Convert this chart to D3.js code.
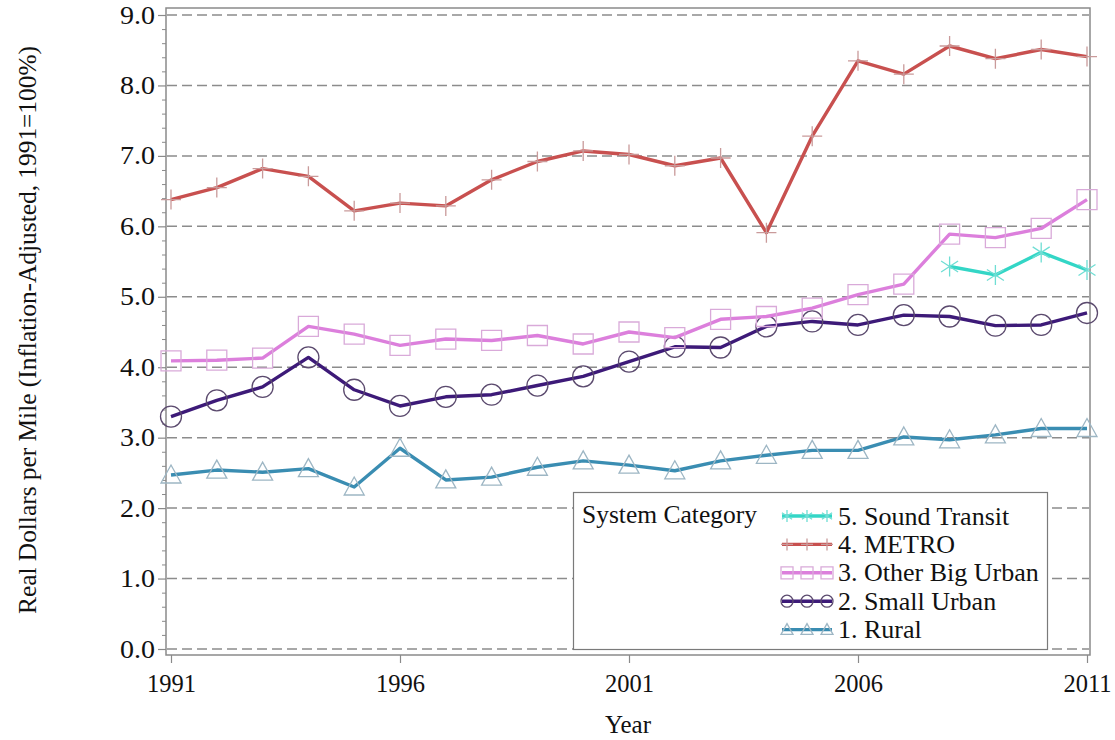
<!DOCTYPE html>
<html>
<head>
<meta charset="utf-8">
<script src="https://cdn.jsdelivr.net/npm/d3@7/dist/d3.min.js"></script>
</head>
<body style="margin:0;padding:0;background:#fff">
<svg id="chart" width="1115" height="740" style="display:block"></svg>
<script>
// ---------------- DATA ----------------
const years = [1991,1992,1993,1994,1995,1996,1997,1998,1999,2000,2001,2002,2003,2004,2005,2006,2007,2008,2009,2010,2011];
const xTickValues = [1991, 1996, 2001, 2006, 2011];
const yTickValues = [0,1,2,3,4,5,6,7,8,9];

const soundTransit = [null,null,null,null,null,null,null,null,null,null,null,null,null,null,null,null,null,5.43,5.31,5.63,5.38];
const metro        = [6.38,6.55,6.82,6.71,6.22,6.33,6.29,6.66,6.92,7.07,7.02,6.86,6.97,5.91,7.28,8.35,8.16,8.56,8.38,8.51,8.41];
const otherBigUrban= [4.09,4.10,4.13,4.58,4.47,4.31,4.40,4.38,4.45,4.33,4.50,4.42,4.68,4.72,4.84,5.03,5.18,5.89,5.84,5.97,6.38];
const smallUrban   = [3.30,3.53,3.72,4.14,3.68,3.45,3.58,3.61,3.74,3.87,4.08,4.29,4.28,4.58,4.65,4.60,4.74,4.72,4.59,4.60,4.77];
const rural        = [2.47,2.54,2.51,2.56,2.30,2.85,2.40,2.44,2.58,2.67,2.61,2.53,2.67,2.75,2.82,2.82,3.01,2.97,3.04,3.13,3.13];

const seriesNames = ["5. Sound Transit","4. METRO","3. Other Big Urban","2. Small Urban","1. Rural"];
const seriesValues = [soundTransit, metro, otherBigUrban, smallUrban, rural];
const lineColors   = ["#33d6c6","#c8504f","#dc7fdc","#3d1a78","#3a8db2"];
const markerColors = ["#6fded4","#c99a9a","#d9aad9","#5b4a6e","#9db6c4"];
const markerTypes  = ["asterisk","plus","square","circle","triangle"];

const yTitle = "Real Dollars per Mile (Inflation-Adjusted, 1991=100%)";
const xTitle = "Year";
const legendTitle = "System Category";

// ---------------- LAYOUT ----------------
const FONT = '"Liberation Serif", "Times New Roman", serif';
const svg = d3.select("#chart");
const frame = {left: 166, right: 1090, top: 8, bottom: 655};

const x = d3.scaleLinear().domain([1991, 2011]).range([171, 1087]);
const y = d3.scaleLinear().domain([0, 9]).range([649, 15]);

// frame
const axisColor = "#8a8a8a";
svg.append("rect")
  .attr("x", frame.left).attr("y", frame.top)
  .attr("width", frame.right - frame.left).attr("height", frame.bottom - frame.top)
  .attr("fill", "none").attr("stroke", axisColor).attr("stroke-width", 1.5);

// gridlines
svg.append("g").selectAll("line").data(yTickValues).join("line")
  .attr("x1", frame.left + 1).attr("x2", frame.right - 1)
  .attr("y1", d => y(d)).attr("y2", d => y(d))
  .attr("stroke", "#8c8c8c").attr("stroke-width", 1.5)
  .attr("stroke-dasharray", "10,5");

// y axis (major)
const yAxis = d3.axisLeft(y).tickValues(yTickValues).tickFormat(d3.format(".1f")).tickSize(8).tickPadding(3);
const gy = svg.append("g").attr("transform", `translate(${frame.left},0)`).call(yAxis);
gy.select(".domain").remove();
gy.selectAll(".tick line").attr("stroke", axisColor).attr("stroke-width", 1.2);
gy.selectAll(".tick text")
  .attr("font-size", 25).attr("fill", "#111")
  .attr("textLength", 35).attr("lengthAdjust", "spacingAndGlyphs");

// y axis minor ticks
const minorVals = d3.range(0, 45).map(i => i * 0.2).filter(v => Math.abs(v - Math.round(v)) > 1e-6 && v < 9);
const yMinor = d3.axisLeft(y).tickValues(minorVals).tickFormat("").tickSize(4);
const gym = svg.append("g").attr("transform", `translate(${frame.left},0)`).call(yMinor);
gym.select(".domain").remove();
gym.selectAll(".tick line").attr("stroke", axisColor).attr("stroke-width", 1);

// x axis
const xAxis = d3.axisBottom(x).tickValues(xTickValues).tickFormat(d3.format("d")).tickSize(8).tickPadding(12);
const gx = svg.append("g").attr("transform", `translate(0,${frame.bottom})`).call(xAxis);
gx.select(".domain").remove();
gx.selectAll(".tick line").attr("stroke", axisColor).attr("stroke-width", 1.2);
gx.selectAll(".tick text").attr("font-size", 24.5).attr("fill", "#111");

// axis titles
svg.append("text")
  .attr("transform", "translate(27,330) rotate(-90)")
  .attr("text-anchor", "middle").attr("dominant-baseline", "central")
  .attr("font-size", 25).attr("textLength", 568).attr("lengthAdjust", "spacingAndGlyphs")
  .text(yTitle);
svg.append("text")
  .attr("x", 628).attr("y", 733).attr("text-anchor", "middle")
  .attr("font-size", 25).text(xTitle);

// marker generator
function markerPath(type, s) {
  switch (type) {
    case "plus": return `M${-s},0L${s},0M0,${-s}L0,${s}`;
    case "square": return `M${-s},${-s}L${s},${-s}L${s},${s}L${-s},${s}Z`;
    case "circle": return `M${s},0A${s},${s} 0 1,1 ${-s},0A${s},${s} 0 1,1 ${s},0Z`;
    case "triangle": return `M0,${-s}L${s},${s * 0.8}L${-s},${s * 0.8}Z`;
    case "asterisk": {
      const dx = s * 0.85, dy = s * 0.55;
      return `M0,${-s}L0,${s}M${-dx},${-dy}L${dx},${dy}M${-dx},${dy}L${dx},${-dy}`;
    }
  }
}

const line = d3.line()
  .defined(d => d.v !== null)
  .x(d => x(d.year)).y(d => y(d.v));

// draw series (from 1. Rural up so METRO/Sound Transit on top)
const order = [4, 3, 2, 1, 0];
order.forEach(i => {
  const pts = years.map((yr, k) => ({year: yr, v: seriesValues[i][k]}));
  const g = svg.append("g");
  g.append("path").datum(pts).attr("d", line)
    .attr("fill", "none").attr("stroke", lineColors[i]).attr("stroke-width", 3.4)
    .attr("stroke-linejoin", "round");
  g.selectAll("path.m").data(pts.filter(d => d.v !== null)).join("path")
    .attr("class", "m")
    .attr("transform", d => `translate(${x(d.year)},${y(d.v)})`)
    .attr("d", markerPath(markerTypes[i], markerTypes[i] === "circle" ? 10.5 : 10))
    .attr("fill", "none").attr("stroke", markerColors[i]).attr("stroke-width", 1.3);
});

// legend
const lg = svg.append("g");
lg.append("rect").attr("x", 573.5).attr("y", 492.5).attr("width", 474).attr("height", 157)
  .attr("fill", "#fff").attr("stroke", "#7a7a7a").attr("stroke-width", 1.2);
lg.append("text").attr("x", 582).attr("y", 523).attr("font-size", 25.5).text(legendTitle);
seriesNames.forEach((name, i) => {
  const cy = 516 + i * 28.4;
  lg.append("line").attr("x1", 782).attr("x2", 832).attr("y1", cy).attr("y2", cy)
    .attr("stroke", lineColors[i]).attr("stroke-width", 3.4);
  [787, 807, 827].forEach(mx => {
    lg.append("path").attr("transform", `translate(${mx},${cy})`)
      .attr("d", markerPath(markerTypes[i], 6))
      .attr("fill", "none").attr("stroke", markerColors[i]).attr("stroke-width", 1.3);
  });
  lg.append("text").attr("x", 838).attr("y", cy + 8.5).attr("font-size", 26).text(name);
});

// apply serif font to every text as inline style
svg.selectAll("text").style("font-family", FONT).style("fill", "#111");
</script>
</body>
</html>
